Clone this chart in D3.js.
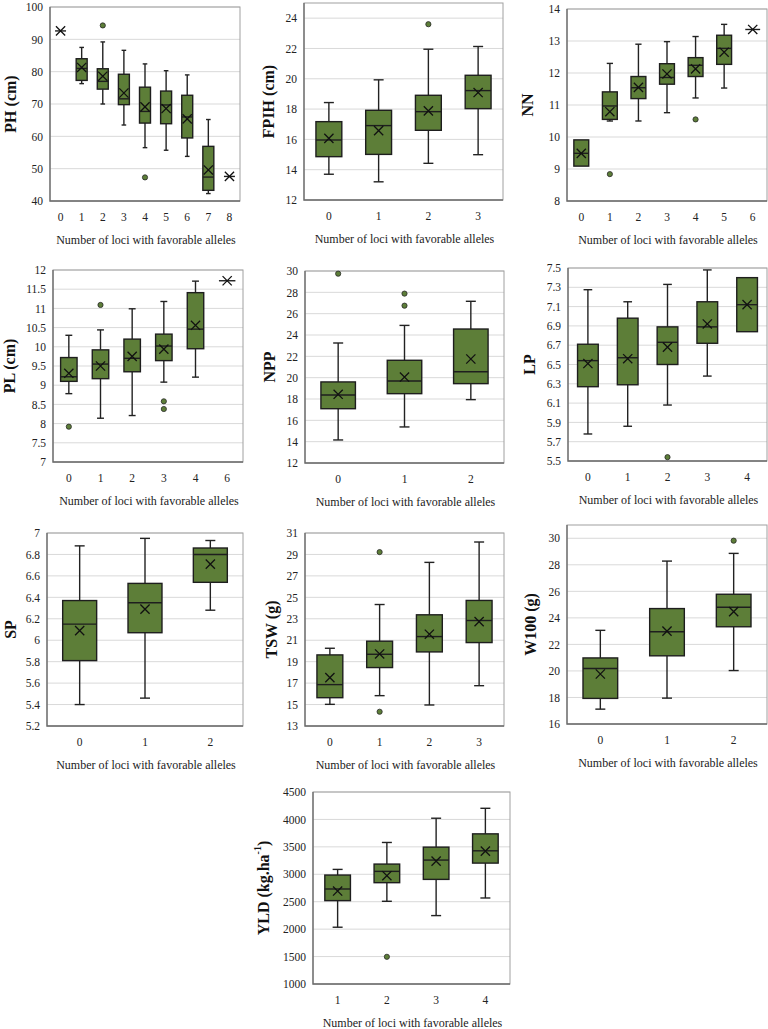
<!DOCTYPE html>
<html><head><meta charset="utf-8">
<script src="https://cdn.jsdelivr.net/npm/d3@7/dist/d3.min.js"></script>
<style>html,body{margin:0;padding:0;background:#fff;}svg{display:block;}</style>
</head><body>
<script>
// ---------- DATA (rows: [min, q1, median, q3, max, mean]) ----------
const PH_cats = ["0","1","2","3","4","5","6","7","8"];
const PH_box = [
  [92.6,92.6,92.6,92.6,92.6,92.6],
  [76.3,77.3,81.0,84.0,87.5,81.3],
  [70.0,74.6,77.0,80.9,89.2,78.6],
  [63.5,69.8,71.6,79.2,86.6,73.4],
  [56.5,64.1,67.7,75.2,82.4,69.1],
  [55.7,63.9,69.7,74.0,80.3,68.6],
  [53.8,59.5,66.0,72.7,79.0,65.4],
  [42.3,43.3,47.4,56.9,65.2,49.6],
  [47.6,47.6,47.6,47.6,47.6,47.6]];
const PH_out = [[2,94.3],[4,47.3]];
const PH_ticks = [40,50,60,70,80,90,100];

const FPIH_cats = ["0","1","2","3"];
const FPIH_box = [
  [13.7,14.86,15.96,17.17,18.43,16.07],
  [13.2,15.01,16.91,17.92,19.93,16.58],
  [14.42,16.6,17.83,18.91,21.95,17.88],
  [14.99,18.03,19.22,20.23,22.13,19.09]];
const FPIH_out = [[2,23.6]];
const FPIH_ticks = [12,14,16,18,20,22,24];

const NN_cats = ["0","1","2","3","4","5","6"];
const NN_box = [
  [9.09,9.09,9.49,9.91,9.91,9.49],
  [10.5,10.55,10.97,11.41,12.3,10.79],
  [10.5,11.2,11.54,11.89,12.9,11.55],
  [10.76,11.65,11.86,12.29,12.98,11.97],
  [11.22,11.89,12.24,12.48,13.14,12.13],
  [11.53,12.27,12.77,13.18,13.52,12.65],
  [13.36,13.36,13.36,13.36,13.36,13.36]];
const NN_out = [[1,8.84],[4,10.55]];
const NN_ticks = [8,9,10,11,12,13,14];

const PL_cats = ["0","1","2","3","4","6"];
const PL_box = [
  [8.78,9.1,9.22,9.72,10.3,9.31],
  [8.14,9.17,9.55,9.92,10.44,9.5],
  [8.21,9.35,9.7,10.2,10.99,9.75],
  [9.08,9.64,10.02,10.33,11.18,9.94],
  [9.21,9.95,10.46,11.41,11.71,10.56],
  [11.72,11.72,11.72,11.72,11.72,11.72]];
const PL_out = [[0,7.92],[1,11.09],[3,8.58],[3,8.38]];
const PL_ticks = [7,7.5,8,8.5,9,9.5,10,10.5,11,11.5,12];

const NPP_cats = ["0","1","2"];
const NPP_box = [
  [14.16,17.09,18.38,19.6,23.25,18.44],
  [15.38,18.5,19.69,21.63,24.9,20.06],
  [17.94,19.44,20.56,24.56,27.16,21.75]];
const NPP_out = [[0,29.75],[1,27.88],[1,26.75]];
const NPP_ticks = [12,14,16,18,20,22,24,26,28,30];

const LP_cats = ["0","1","2","3","4"];
const LP_box = [
  [5.78,6.27,6.54,6.71,7.275,6.51],
  [5.86,6.29,6.57,6.98,7.15,6.56],
  [6.08,6.50,6.73,6.89,7.33,6.68],
  [6.38,6.72,6.89,7.15,7.48,6.92],
  [6.84,6.84,7.12,7.40,7.40,7.12]];
const LP_out = [[2,5.54]];
const LP_ticks = [5.5,5.7,5.9,6.1,6.3,6.5,6.7,6.9,7.1,7.3,7.5];

const SP_cats = ["0","1","2"];
const SP_box = [
  [5.40,5.81,6.15,6.37,6.88,6.09],
  [5.46,6.07,6.35,6.53,6.95,6.29],
  [6.28,6.54,6.80,6.86,6.93,6.71]];
const SP_out = [];
const SP_ticks = [5.2,5.4,5.6,5.8,6,6.2,6.4,6.6,6.8,7];

const TSW_cats = ["0","1","2","3"];
const TSW_box = [
  [15.02,15.64,16.86,19.63,20.25,17.51],
  [15.83,18.45,19.69,20.91,24.33,19.72],
  [14.96,19.91,21.34,23.37,28.26,21.56],
  [16.76,20.78,22.84,24.71,30.16,22.74]];
const TSW_out = [[1,29.22],[1,14.33]];
const TSW_ticks = [13,15,17,19,21,23,25,27,29,31];

const W100_cats = ["0","1","2"];
const W100_box = [
  [17.12,17.93,20.18,20.98,23.06,19.77],
  [17.95,21.14,22.95,24.7,28.28,23.0],
  [20.03,23.33,24.8,25.78,28.86,24.47]];
const W100_out = [[2,29.82]];
const W100_ticks = [16,18,20,22,24,26,28,30];

const YLD_cats = ["1","2","3","4"];
const YLD_box = [
  [2035,2520,2732,2986,3089,2695],
  [2508,2847,3053,3186,3580,2974],
  [2247,2907,3259,3495,4022,3240],
  [2568,3204,3428,3737,4203,3422]];
const YLD_out = [[1,1496]];
const YLD_ticks = [1000,1500,2000,2500,3000,3500,4000,4500];

const xTitle = "Number of loci with favorable alleles";

// ---------- LAYOUT ----------
const panels = [
  {title:["PH (cm)"], cats:PH_cats, box:PH_box, out:PH_out, ticks:PH_ticks, dMax:100, x0:50, x1:240, yT:7, yB:201, tx:10},
  {title:["FPIH (cm)"], cats:FPIH_cats, box:FPIH_box, out:FPIH_out, ticks:FPIH_ticks, dMax:25, x0:304, x1:503, yT:3, yB:200, tx:268},
  {title:["NN"], cats:NN_cats, box:NN_box, out:NN_out, ticks:NN_ticks, dMax:14, x0:567, x1:767, yT:9, yB:201, tx:527},
  {title:["PL (cm)"], cats:PL_cats, box:PL_box, out:PL_out, ticks:PL_ticks, dMax:12, x0:53, x1:243, yT:270, yB:462, tx:9},
  {title:["NPP"], cats:NPP_cats, box:NPP_box, out:NPP_out, ticks:NPP_ticks, dMax:30, x0:305, x1:504, yT:271, yB:463, tx:269},
  {title:["LP"], cats:LP_cats, box:LP_box, out:LP_out, ticks:LP_ticks, dMax:7.5, x0:568, x1:767, yT:268, yB:461, tx:529},
  {title:["SP"], cats:SP_cats, box:SP_box, out:SP_out, ticks:SP_ticks, dMax:7, x0:47, x1:243, yT:533, yB:726, tx:10},
  {title:["TSW (g)"], cats:TSW_cats, box:TSW_box, out:TSW_out, ticks:TSW_ticks, dMax:31, x0:305, x1:504, yT:533, yB:726, tx:271},
  {title:["W100 (g)"], cats:W100_cats, box:W100_box, out:W100_out, ticks:W100_ticks, dMax:31, x0:567, x1:767, yT:525, yB:724, tx:530},
  {title:["YLD (kg.ha","-1",")"], cats:YLD_cats, box:YLD_box, out:YLD_out, ticks:YLD_ticks, dMax:4500, x0:313, x1:510, yT:792, yB:984, tx:263}
];

const FONT = "'Liberation Serif','Times New Roman',serif";
const GREEN = "#5d7e38";
const W = 768, H = 1029;
const svg = d3.select("body").append("svg").attr("width", W).attr("height", H)
  .style("font-family", FONT);
svg.append("rect").attr("width", W).attr("height", H).attr("fill", "#fff");

const fmt = v => String(+v.toFixed(4));

panels.forEach(p => {
  const g = svg.append("g");
  const x = d3.scaleBand().domain(p.cats).range([p.x0, p.x1]).padding(0);
  const y = d3.scaleLinear().domain([p.ticks[0], p.dMax]).range([p.yB, p.yT]);
  const bw = x.bandwidth() * 0.52;
  const cap = Math.min(10, bw * 0.42);

  // gridlines
  g.append("g").selectAll("line").data(p.ticks.slice(1)).join("line")
    .attr("x1", p.x0).attr("x2", p.x1)
    .attr("y1", d => y(d)).attr("y2", d => y(d))
    .attr("stroke", "#d9d9d9").attr("stroke-width", 1);
  // frame
  g.append("rect").attr("x", p.x0).attr("y", p.yT).attr("width", p.x1 - p.x0).attr("height", p.yB - p.yT)
    .attr("fill", "none").attr("stroke", "#a0a0a0").attr("stroke-width", 1);
  g.append("path").attr("d", `M${p.x0},${p.yT}V${p.yB}H${p.x1}`)
    .attr("fill", "none").attr("stroke", "#6b6b6b").attr("stroke-width", 1.3);

  // y axis labels
  const yAxis = d3.axisLeft(y).tickValues(p.ticks).tickFormat(fmt).tickSize(0).tickPadding(7);
  const ya = g.append("g").attr("transform", `translate(${p.x0},0)`).call(yAxis);
  ya.select(".domain").remove();
  ya.selectAll("text").attr("font-size", 11.5).attr("fill", "#222").style("font-family", FONT);

  // x axis labels
  const xAxis = d3.axisBottom(x).tickSize(0).tickPadding(12);
  const xa = g.append("g").attr("transform", `translate(0,${p.yB})`).call(xAxis);
  xa.select(".domain").remove();
  xa.selectAll("text").attr("font-size", 11.5).attr("fill", "#222").style("font-family", FONT);

  // x title
  g.append("text").attr("x", (p.x0 + p.x1) / 2 + 1).attr("y", p.yB + 43)
    .attr("text-anchor", "middle").attr("font-size", 12).attr("fill", "#222").text(xTitle);

  // y title
  const yt = g.append("text")
    .attr("transform", `translate(${p.tx},${(p.yT + p.yB) / 2}) rotate(-90)`)
    .attr("text-anchor", "middle").attr("dominant-baseline", "central")
    .attr("font-size", 16).attr("font-weight", "bold").attr("fill", "#111");
  yt.append("tspan").text(p.title[0]);
  if (p.title.length > 1) {
    yt.append("tspan").attr("dy", -6).attr("font-size", 10).text(p.title[1]);
    yt.append("tspan").attr("dy", 6).text(p.title[2]);
  }

  const rows = p.box.map((r, i) => ({c: p.cats[i], min:r[0], q1:r[1], med:r[2], q3:r[3], max:r[4], mean:r[5]}));
  const cx = d => x(d.c) + x.bandwidth() / 2;

  // whiskers
  const wk = g.append("g").attr("stroke", "#222").attr("stroke-width", 1.4);
  rows.forEach(d => {
    if (d.max > d.q3) {
      wk.append("line").attr("x1", cx(d)).attr("x2", cx(d)).attr("y1", y(d.q3)).attr("y2", y(d.max));
      wk.append("line").attr("x1", cx(d) - cap/2).attr("x2", cx(d) + cap/2).attr("y1", y(d.max)).attr("y2", y(d.max));
    }
    if (d.min < d.q1) {
      wk.append("line").attr("x1", cx(d)).attr("x2", cx(d)).attr("y1", y(d.q1)).attr("y2", y(d.min));
      wk.append("line").attr("x1", cx(d) - cap/2).attr("x2", cx(d) + cap/2).attr("y1", y(d.min)).attr("y2", y(d.min));
    }
  });
  // boxes
  g.append("g").selectAll("rect").data(rows.filter(d => d.q3 > d.q1)).join("rect")
    .attr("x", d => cx(d) - bw/2).attr("width", bw)
    .attr("y", d => y(d.q3)).attr("height", d => y(d.q1) - y(d.q3))
    .attr("fill", GREEN).attr("stroke", "#1e1e1e").attr("stroke-width", 1.4);
  // median
  g.append("g").selectAll("line").data(rows).join("line")
    .attr("x1", d => cx(d) - bw/2).attr("x2", d => cx(d) + bw/2)
    .attr("y1", d => y(d.med)).attr("y2", d => y(d.med))
    .attr("stroke", "#1e1e1e").attr("stroke-width", 1.4);
  // mean X
  const s = 4.6;
  g.append("g").selectAll("path").data(rows).join("path")
    .attr("d", d => { const X = cx(d), Y = y(d.mean); return `M${X-s},${Y-s}L${X+s},${Y+s}M${X-s},${Y+s}L${X+s},${Y-s}`; })
    .attr("stroke", "#111").attr("stroke-width", 1.3).attr("fill", "none");
  // outliers
  g.append("g").selectAll("circle").data(p.out).join("circle")
    .attr("cx", d => x(p.cats[d[0]]) + x.bandwidth() / 2).attr("cy", d => y(d[1])).attr("r", 2.6)
    .attr("fill", GREEN).attr("stroke", "#2a2a2a").attr("stroke-width", 0.8);
});
</script>
</body></html>
